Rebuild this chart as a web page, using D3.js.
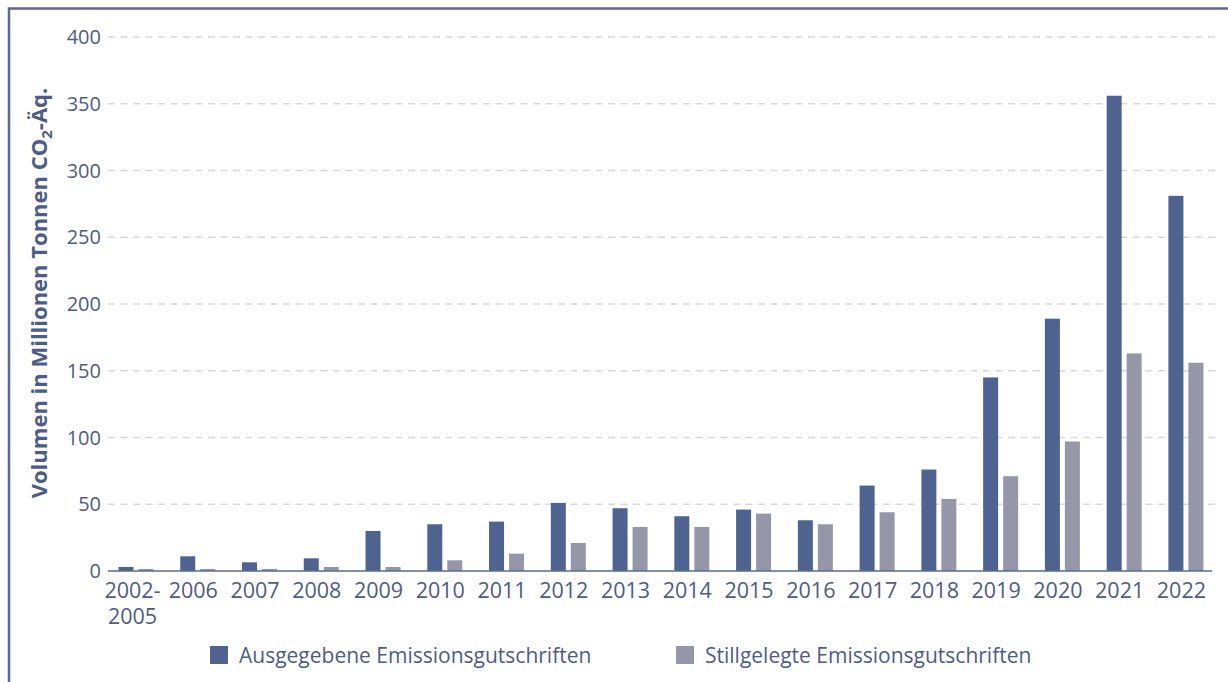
<!doctype html>
<html lang="de">
<head>
<meta charset="utf-8">
<title>Emissionsgutschriften</title>
<script src="https://cdn.jsdelivr.net/npm/d3@7"></script>
<style>
  html, body { margin: 0; padding: 0; background: #fff; }
  svg { display: block; font-family: "Open Sans", sans-serif; }
</style>
</head>
<body>
<div id="chart"></div>
<script>
// data
var years = ["2002-2005", "2006", "2007", "2008", "2009", "2010", "2011", "2012", "2013",
             "2014", "2015", "2016", "2017", "2018", "2019", "2020", "2021", "2022"];
var issued  = [3, 11, 6.5, 9.5, 30, 35, 37, 51, 47, 41, 46, 38, 64, 76, 145, 189, 356, 281];
var retired = [1.5, 1.5, 1.5, 3, 3, 8, 13, 21, 33, 33, 43, 35, 44, 54, 71, 97, 163, 156];
var yTicks = [0, 50, 100, 150, 200, 250, 300, 350, 400];
var seriesNames = ["Ausgegebene Emissionsgutschriften", "Stillgelegte Emissionsgutschriften"];

var W = 1228, H = 682;
var blue = "#4f6390", grey = "#9597a8", textCol = "#4d5c88";

var svg = d3.select("#chart").append("svg")
    .attr("width", W)
    .attr("height", H);

// frame (left + top edges)
svg.append("path")
    .attr("d", "M9,682 V8.5 H1228")
    .attr("fill", "none")
    .attr("stroke", "#5a6a94")
    .attr("stroke-width", 2.5);

var x = d3.scaleBand()
    .domain(years)
    .range([104.6, 1216.3]);

var y = d3.scaleLinear()
    .domain([0, 400])
    .range([571, 37]);

// grid
svg.append("g").selectAll("line")
    .data(yTicks.filter(function(d) { return d > 0; }))
    .enter().append("line")
      .attr("x1", 108).attr("x2", 1215)
      .attr("y1", function(d) { return y(d); })
      .attr("y2", function(d) { return y(d); })
      .attr("stroke", "#d9d9dc")
      .attr("stroke-width", 1.3)
      .attr("stroke-dasharray", "7,5.5");

// y tick labels
svg.append("g").selectAll("text")
    .data(yTicks)
    .enter().append("text")
      .attr("x", 101)
      .attr("y", function(d) { return y(d); })
      .attr("dy", "0.36em")
      .attr("text-anchor", "end")
      .attr("fill", textCol)
      .style("font-size", "20px")
      .text(function(d) { return d; });

// bars
var barW = 15, gap = 5;
var groups = svg.append("g").selectAll("g")
    .data(years)
    .enter().append("g")
      .attr("transform", function(d) { return "translate(" + (x(d) + x.bandwidth() / 2) + ",0)"; });

groups.append("rect")
    .attr("x", -barW - gap / 2 + 0.5)
    .attr("y", function(d, i) { return y(issued[i]); })
    .attr("width", barW)
    .attr("height", function(d, i) { return y(0) - y(issued[i]); })
    .attr("fill", blue);

groups.append("rect")
    .attr("x", gap / 2 + 0.5)
    .attr("y", function(d, i) { return y(retired[i]); })
    .attr("width", barW)
    .attr("height", function(d, i) { return y(0) - y(retired[i]); })
    .attr("fill", grey);

// baseline
svg.append("line")
    .attr("x1", 108).attr("x2", 1212)
    .attr("y1", y(0)).attr("y2", y(0))
    .attr("stroke", "#5b6a96")
    .attr("stroke-width", 1.5);

// x labels (first one wraps onto two lines)
var xg = svg.append("g")
    .attr("fill", textCol)
    .style("font-size", "21.5px");

years.forEach(function(d) {
  var cx = x(d) + x.bandwidth() / 2 - 4;
  var lines = d.indexOf("-") > 0 ? [d.split("-")[0] + "-", d.split("-")[1]] : [d];
  lines.forEach(function(l, j) {
    xg.append("text")
      .attr("x", lines.length > 1 ? cx + 1 : cx)
      .attr("y", 598 + j * 26)
      .attr("text-anchor", "middle")
      .text(l);
  });
});

// y axis title
var title = svg.append("text")
    .attr("transform", "translate(47,293) rotate(-90)")
    .attr("text-anchor", "middle")
    .attr("fill", textCol)
    .style("font-size", "22px")
    .style("font-weight", "bold");
title.append("tspan").text("Volumen in Millionen Tonnen CO");
title.append("tspan").attr("dy", 5).style("font-size", "15px").text("2");
title.append("tspan").attr("dy", -5).text("-Äq.");

// legend
var legX = [210, 676];
var leg = svg.append("g").selectAll("g")
    .data(seriesNames)
    .enter().append("g")
      .attr("transform", function(d, i) { return "translate(" + legX[i] + ",646)"; });

leg.append("rect")
    .attr("width", 18).attr("height", 18)
    .attr("fill", function(d, i) { return i === 0 ? blue : grey; });

leg.append("text")
    .attr("x", 29)
    .attr("y", 9)
    .attr("dy", "0.36em")
    .attr("fill", textCol)
    .style("font-size", "21px")
    .text(function(d) { return d; });
</script>
</body>
</html>
